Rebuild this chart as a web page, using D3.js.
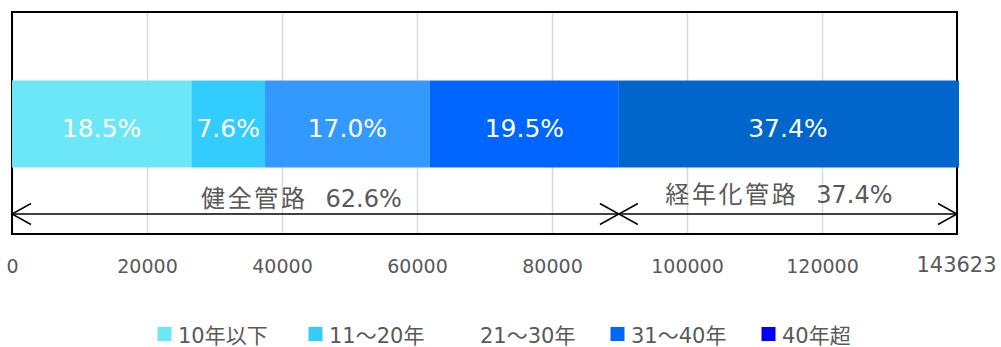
<!DOCTYPE html>
<html><head><meta charset="utf-8">
<script src="https://cdn.jsdelivr.net/npm/d3@7"></script>
<style>body{margin:0;background:#fff} svg{display:block}</style>
</head><body>
<svg id="chart" width="1001" height="347"></svg>
<script>
// ---- data ----
const categories = ["10年以下", "11～20年", "21～30年", "31～40年", "40年超"];
const values = [26570, 10915, 24416, 28006, 53716];
const barColors = ["#6CE7F8", "#33CCFF", "#3399FF", "#0066FF", "#0066CC"];
const legendColors = ["#6CE7F8", "#33CCFF", "none", "#0066FF", "#0000FF"];
const tickValues = [0, 20000, 40000, 60000, 80000, 100000, 120000, 140000];
const tickLabels = ["0", "20000", "40000", "60000", "80000", "100000", "120000", "143623"];
const groupNames = ["健全管路", "経年化管路"];
const groupSizes = [4, 1];
const axisMax = 140000;

// ---- layout ----
const W = 1001, H = 347;
const M = {left: 12, right: 44, top: 13, bottom: 113};
const svg = d3.select("#chart");
const FONT = "'DejaVu Sans','Noto Sans CJK JP',sans-serif";
const GREY = "#595959";

const x = d3.scaleLinear().domain([0, axisMax]).range([M.left, W - M.right]);
const y = d3.scaleBand().domain(["管路"]).range([M.top, H - M.bottom + 1]).padding(0.437);
const plotTop = 12, plotBottom = 234;

const total = d3.sum(values);
const cum = d3.cumsum(values);
const segs = values.map((v, i) => ({v, i, x0: i ? cum[i - 1] : 0, x1: cum[i]}));

// gridlines
svg.append("g")
  .attr("transform", `translate(0,${plotBottom})`)
  .call(d3.axisBottom(x).tickValues(tickValues).tickSize(-(plotBottom - plotTop)).tickFormat(""))
  .call(g => g.select(".domain").remove())
  .call(g => g.selectAll("line").attr("stroke", "#D9D9D9").attr("stroke-width", 1.5));

// border
svg.append("rect")
  .attr("x", x(0)).attr("y", plotTop)
  .attr("width", x(axisMax) - x(0)).attr("height", plotBottom - plotTop)
  .attr("fill", "none").attr("stroke", "#000").attr("stroke-width", 2);

// clip for bars
svg.append("clipPath").attr("id", "clip").append("rect")
  .attr("x", x(0) - 1).attr("y", 0)
  .attr("width", x(axisMax) - x(0) + 3).attr("height", H);

const bars = svg.append("g").attr("clip-path", "url(#clip)");
bars.selectAll("rect").data(segs).join("rect")
  .attr("x", d => x(d.x0))
  .attr("width", d => x(d.x1) - x(d.x0))
  .attr("y", y("管路"))
  .attr("height", y.bandwidth())
  .attr("fill", d => barColors[d.i]);

// bar labels
const pct = d3.format(".1%");
svg.append("g").selectAll("text").data(segs).join("text")
  .attr("x", d => (x(d.x0) + Math.min(x(d.x1), x(axisMax))) / 2)
  .attr("y", y("管路") + y.bandwidth() / 2 + 12.5)
  .attr("text-anchor", "middle")
  .attr("fill", "#fff")
  .style("font-family", FONT).style("font-size", "25px")
  .text(d => pct(d.v / total));

// axis tick labels
svg.append("g")
  .attr("transform", `translate(0,${plotBottom})`)
  .call(d3.axisBottom(x).tickValues(tickValues).tickSize(0).tickPadding(25.5)
        .tickFormat((d, i) => tickLabels[i]))
  .call(g => g.select(".domain").remove())
  .call(g => g.selectAll("text").attr("fill", GREY)
        .style("font-family", FONT).style("font-size", "19px"))
  .call(g => g.selectAll("text").filter((d, i) => i === tickValues.length - 1)
        .style("font-size", "21px").attr("y", 23.5).attr("x", -1));

// group arrows
const groups = [];
let start = 0, idx = 0;
groupSizes.forEach((n, gi) => {
  const s = d3.sum(values.slice(idx, idx + n));
  groups.push({name: groupNames[gi], x0: start, x1: Math.min(start + s, axisMax), share: s / total});
  start += s; idx += n;
});
const ay = 214, ahL = 19, ahH = 10.5;
const ag = svg.append("g").attr("stroke", "#000").attr("stroke-width", 1.5).attr("fill", "none");
groups.forEach(g => {
  const a = x(g.x0), b = x(g.x1);
  ag.append("line").attr("x1", a).attr("x2", b).attr("y1", ay).attr("y2", ay);
  ag.append("polyline").attr("points", `${a + ahL},${ay - ahH} ${a},${ay} ${a + ahL},${ay + ahH}`);
  ag.append("polyline").attr("points", `${b - ahL},${ay - ahH} ${b},${ay} ${b - ahL},${ay + ahH}`);
});
const labelShift = [-14, -9];
const labelY = [207, 203];
groups.forEach((g, gi) => {
  const t = svg.append("text")
    .attr("x", (x(g.x0) + x(g.x1)) / 2 + labelShift[gi])
    .attr("y", labelY[gi])
    .attr("text-anchor", "middle")
    .attr("fill", GREY)
    .style("font-family", FONT).style("font-size", "24px");
  t.append("tspan").style("letter-spacing", "2.6px").text(g.name);
  t.append("tspan").attr("dx", 18).text(pct(g.share));
});

// legend
const lg = svg.append("g");
const lx0 = 157.5, lstep = 151, ly = 334;
categories.forEach((c, i) => {
  const gx = lx0 + i * lstep;
  lg.append("rect").attr("x", gx).attr("y", ly - 7).attr("width", 14).attr("height", 14)
    .attr("fill", legendColors[i]);
  lg.append("text").attr("x", gx + 20.5).attr("y", ly + 9)
    .attr("fill", GREY)
    .style("font-family", FONT).style("font-size", "21px")
    .text(c);
});
</script>
</body></html>
